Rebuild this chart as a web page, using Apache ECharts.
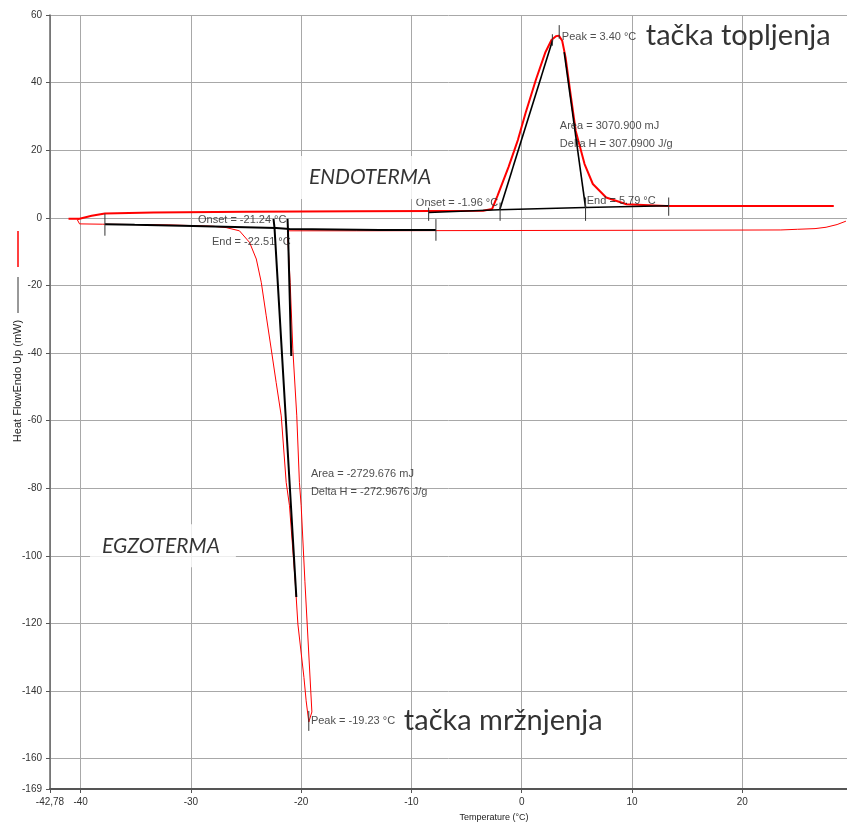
<!DOCTYPE html>
<html><head><meta charset="utf-8">
<script src="https://cdn.jsdelivr.net/npm/echarts@6/dist/echarts.min.js"></script>
<style>html,body{margin:0;padding:0;background:#fff}#c{width:847px;height:825px}</style>
</head><body><div id="c"></div>
<script>
// ---- tick values ----
const xTicks = [-42.78, -40, -30, -20, -10, 0, 10, 20];
const yTicks = [-169, -160, -140, -120, -100, -80, -60, -40, -20, 0, 20, 40, 60];

// ---- red heating curve (endotherm, melting) [T, mW] ----
const heating = [[-41.1,-0.3],[-40.1,-0.3],[-39.0,0.6],[-37.8,1.3],[-33.4,1.6],[-25,1.8],[-15,1.9],[-8,2.0],[-3.5,2.1],
  [-2.69,2.6],[-2.2,6.5],[-1.2,15],[-0.35,23],[0.35,31],[1.3,41],[2.15,49],[2.7,52.6],[3.1,53.7],[3.37,53.9],
  [3.67,52.4],[3.98,47.4],[4.43,36.6],[4.9,25.7],[5.7,15.9],[6.45,10],[7.66,6],[9.5,4],[13.1,3.5],[28.3,3.5]];

// ---- red cooling curve (exotherm, freezing) [T, mW] ----
const cooling = [[29.4,-1.0],[28.6,-2.0],[27.6,-2.8],[26.6,-3.2],[25.0,-3.4],[23.5,-3.6],[10,-3.7],[-8,-3.8],[-15,-3.85],
  [-21.25,-3.85],[-21.0,-19.1],[-20.76,-38.8],[-20.4,-58.6],[-20.16,-78.3],[-20.0,-85.2],[-19.66,-107.7],[-19.03,-146.2],
  [-19.31,-149.2],[-19.55,-142.9],[-19.75,-136],[-20.3,-120.2],[-20.54,-107.7],[-21.06,-85.2],[-21.36,-78.3],[-21.81,-58.6],
  [-22.27,-48.7],[-22.72,-38.8],[-23.17,-29],[-23.62,-19.1],[-24.07,-12.2],[-24.68,-7.3],[-25.6,-3.85],[-26.8,-2.9],
  [-28,-2.5],[-32,-2.1],[-38,-1.9],[-40.1,-1.8],[-40.3,-0.6],[-40.1,-0.3]];

// ---- black analysis lines (baselines and tangents) ----
const endoBaseline = [[-8.44,1.57],[-2.05,2.37],[5.74,3.05],[13.33,3.55]];
const endoTangentLeft = [[-2.0,2.3],[2.8,52.5]];
const endoTangentRight = [[3.85,49],[5.79,3.0]];
const exoBaseline = [[-37.8,-1.9],[-35.1,-2.07],[-29.8,-2.4],[-22.26,-3.05],[-21.06,-3.3],[-12.9,-3.6],[-7.78,-3.6]];
const exoTangentEnd = [[-22.51,-0.3],[-22.42,-2.9],[-20.44,-112.2]];
const exoTangentOnset = [[-21.24,-0.3],[-21.2,-3.5],[-20.9,-40.9]];

// ---- small vertical marker bars [T, yTop, yBottom] ----
const markerBars = [[-8.44,3.0,-0.9],[-1.96,4.5,-0.9],[5.79,6,-0.9],[13.33,6,0.6],[3.40,57,53],[2.78,54.3,50.9],
  [-37.8,1.2,-5.3],[-7.78,-0.4,-6.8],[-19.31,-145.9,-151.8]];

// ---- annotation texts [T, mW, text] ----
const smallNotes = [
  [3.64,53.55,'Peak = 3.40 °C'],
  [3.46,27.2,'Area = 3070.900 mJ'],
  [3.46,21.9,'Delta H = 307.0900 J/g'],
  [-9.60,4.44,'Onset = -1.96 °C'],
  [5.90,5.03,'End = 5.79 °C'],
  [-29.36,-0.59,'Onset = -21.24 °C'],
  [-28.09,-7.1,'End = -22.51 °C'],
  [-19.12,-75.7,'Area = -2729.676 mJ'],
  [-19.12,-81.1,'Delta H = -272.9676 J/g'],
  [-19.12,-148.8,'Peak = -19.23 °C']
];
const bigNotes = [
  [11.25,53.85,'tačka topljenja'],
  [-10.69,-148.8,'tačka mržnjenja']
];
const boxNotes = [
  [-20.39,11.92,'ENDOTERMA'],
  [-39.15,-97.04,'EGZOTERMA']
];

const F = "'Liberation Sans', Arial, sans-serif";
const chart = echarts.init(document.getElementById('c'), null, {renderer:'canvas'});

function lineSeries(data, color, width, z) {
  return {type:'line', data, symbol:'none', showSymbol:false, silent:true, animation:false, z,
    lineStyle:{color, width}, itemStyle:{color}};
}

const series = [
  lineSeries(cooling, '#ff0000', 1, 2),
  lineSeries(heating, '#ff0000', 2, 2),
  lineSeries(endoBaseline, '#000', 1.6, 3),
  lineSeries(endoTangentLeft, '#000', 1.6, 3),
  lineSeries(endoTangentRight, '#000', 1.6, 3),
  lineSeries(exoBaseline, '#000', 2, 3),
  lineSeries(exoTangentEnd, '#000', 2, 3),
  lineSeries(exoTangentOnset, '#000', 2, 3)
];
markerBars.forEach(b => series.push(lineSeries([[b[0],b[1]],[b[0],b[2]]], '#333', 1, 3)));

series.push({type:'scatter', symbolSize:0, silent:true, animation:false, z:5,
  data: smallNotes.map(n => ({value:[n[0],n[1]], name:n[2]})),
  label:{show:true, position:'right', distance:0, formatter:'{b}', color:'#222', fontSize:11, fontFamily:F}});
series.push({type:'scatter', symbolSize:0, silent:true, animation:false, z:5,
  data: bigNotes.map(n => ({value:[n[0],n[1]], name:n[2]})),
  label:{show:true, position:'right', distance:0, formatter:'{b}', color:'#000', fontSize:29, fontFamily:"Lato, 'Open Sans', sans-serif"}});
series.push({type:'scatter', symbolSize:0, silent:true, animation:false, z:6,
  data: boxNotes.map(n => ({value:[n[0],n[1]], name:n[2]})),
  label:{show:true, position:'right', distance:0, formatter:'{b}', color:'#000', fontSize:21, fontStyle:'italic',
    fontFamily:"Lato, 'Open Sans', sans-serif", backgroundColor:'#fff', padding:[11,16,11,12]}});

chart.setOption({
  animation:false,
  backgroundColor:'#fff',
  grid:{left:50, top:15, right:0, bottom:36, containLabel:false},
  xAxis:{type:'value', min:-42.78, max:29.5,
    axisLine:{show:true, onZero:false, lineStyle:{color:'#555', width:2}},
    axisTick:{show:true, customValues:xTicks, length:4, inside:false, lineStyle:{color:'#555'}},
    axisLabel:{customValues:xTicks, formatter:v => String(v).replace('.', ','), color:'#333', fontSize:10, fontFamily:F, margin:8},
    splitLine:{show:true, lineStyle:{color:'#a8a8a8', width:1}}},
  yAxis:{type:'value', min:-169, max:60,
    axisLine:{show:true, onZero:false, lineStyle:{color:'#666', width:1.5}},
    axisTick:{show:true, customValues:yTicks, length:4, inside:false, lineStyle:{color:'#555'}},
    axisLabel:{customValues:yTicks, color:'#333', fontSize:10, fontFamily:F, margin:8},
    splitLine:{show:true, lineStyle:{color:'#a8a8a8', width:1}}},
  graphic:[
    {type:'text', x:18, y:381, rotation:Math.PI/2, silent:true,
      style:{text:'Heat FlowEndo Up (mW)', fill:'#222', font:"11px 'Liberation Sans', Arial, sans-serif", align:'center', verticalAlign:'middle'}},
    {type:'text', x:494, y:818, silent:true,
      style:{text:'Temperature (°C)', fill:'#222', font:"9px 'Liberation Sans', Arial, sans-serif", align:'center', verticalAlign:'middle'}},
    {type:'line', silent:true, shape:{x1:18, y1:231, x2:18, y2:267}, style:{stroke:'#ff0000', lineWidth:1.5}},
    {type:'line', silent:true, shape:{x1:18, y1:277, x2:18, y2:313}, style:{stroke:'#333', lineWidth:1}}
  ],
  series
});
</script>
</body></html>
